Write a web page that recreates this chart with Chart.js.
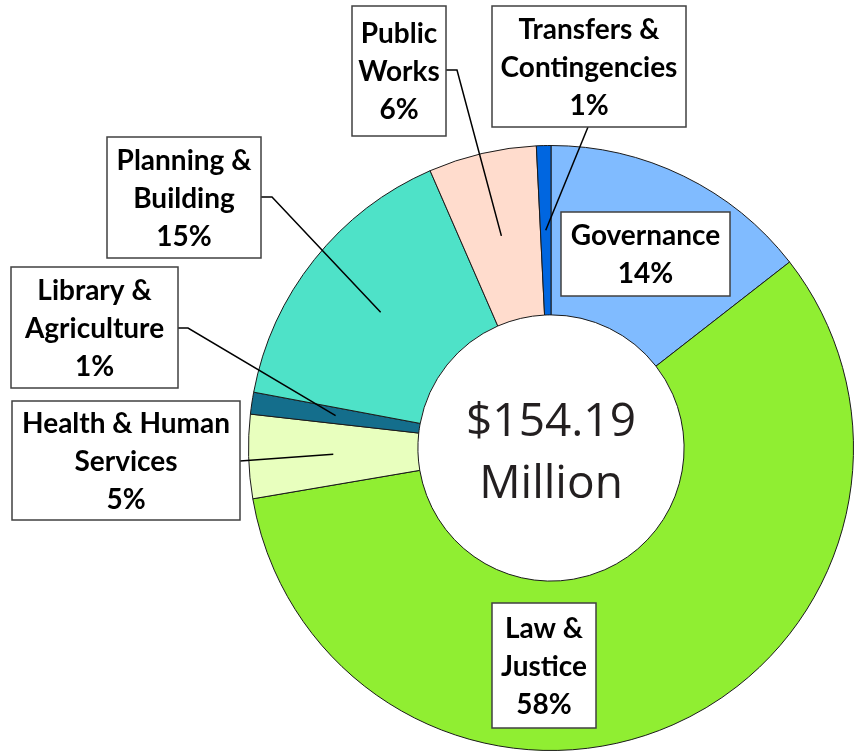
<!DOCTYPE html>
<html>
<head>
<meta charset="utf-8">
<script src="https://cdn.jsdelivr.net/npm/chart.js@4/dist/chart.umd.min.js"></script>
<style>
  html, body { margin: 0; padding: 0; background: #fff; }
  #wrap { width: 856px; height: 753px; position: relative; }
</style>
</head>
<body>
<div id="wrap"><canvas id="budgetChart"></canvas></div>
<script>
/* -------------------------------------------------------
   Data ($ millions)
------------------------------------------------------- */
const categories = ['Governance', 'Law & Justice', 'Health & Human Services', 'Library & Agriculture',
                    'Planning & Building', 'Public Works', 'Transfers & Contingencies'];
const amounts    = [22.3, 89.2, 6.9, 1.8, 23.9, 8.9, 1.19];
const pctLabels  = ['14%', '58%', '5%', '1%', '15%', '6%', '1%'];
const labelLines = [['Governance'], ['Law &', 'Justice'], ['Health & Human', 'Services'], ['Library &', 'Agriculture'],
                    ['Planning &', 'Building'], ['Public', 'Works'], ['Transfers &', 'Contingencies']];
const totalLines = ['$154.19', 'Million'];

/* -------------------------------------------------------
   Colors
------------------------------------------------------- */
const SLICE_COLORS = ['#80BBFF', '#90EE32', '#E8FFBE', '#146E8C', '#4EE2C8', '#FFDCCD', '#0066E0'];

/* -------------------------------------------------------
   Label boxes: x, y, w, h, leader path start (arc centre appended)
------------------------------------------------------- */
const BOXES = [
  { x: 561, y: 212, w: 169, h: 84,  leader: null },
  { x: 492, y: 603, w: 104, h: 125, leader: null },
  { x: 12,  y: 401, w: 228, h: 119, leader: [[240, 461]] },
  { x: 11,  y: 267, w: 167, h: 121, leader: [[177, 328], [188, 328]] },
  { x: 107, y: 137, w: 154, h: 121, leader: [[261, 197], [272, 197]] },
  { x: 352, y: 6,   w: 94,  h: 130, leader: [[446, 70], [457, 70]] },
  { x: 492, y: 6,   w: 194, h: 121, leader: [[588, 127]] },
];

const labelPlugin = {
  id: 'labelBoxes',
  afterDraw(chart) {
    const ctx = chart.ctx;
    const arcs = chart.getDatasetMeta(0).data;

    // center total
    const cx = arcs[0].x, cy = arcs[0].y;
    ctx.save();
    ctx.fillStyle = '#231F20';
    ctx.font = "46px 'Open Sans', sans-serif";
    ctx.textAlign = 'center';
    ctx.textBaseline = 'middle';
    ctx.fillText(totalLines[0], cx, cy - 25);
    ctx.fillText(totalLines[1], cx, cy + 37);
    ctx.restore();

    // leader lines
    ctx.save();
    ctx.strokeStyle = '#000';
    ctx.lineWidth = 1.5;
    BOXES.forEach((b, i) => {
      if (!b.leader) return;
      const end = arcs[i].getCenterPoint();
      ctx.beginPath();
      ctx.moveTo(b.leader[0][0], b.leader[0][1]);
      b.leader.slice(1).forEach(p => ctx.lineTo(p[0], p[1]));
      ctx.lineTo(end.x, end.y);
      ctx.stroke();
    });
    ctx.restore();

    // boxes
    ctx.save();
    ctx.font = "bold 28px Lato, sans-serif";
    ctx.textAlign = 'center';
    ctx.textBaseline = 'middle';
    BOXES.forEach((b, i) => {
      ctx.fillStyle = '#fff';
      ctx.fillRect(b.x, b.y, b.w, b.h);
      ctx.strokeStyle = '#404040';
      ctx.lineWidth = 1.5;
      ctx.strokeRect(b.x, b.y, b.w, b.h);
      const lines = labelLines[i].concat(pctLabels[i]);
      const lh = 38;
      const top = b.y + b.h / 2 - (lines.length - 1) * lh / 2 + 1;
      ctx.fillStyle = '#000';
      lines.forEach((t, k) => ctx.fillText(t, b.x + b.w / 2, top + k * lh));
    });
    ctx.restore();
  }
};

new Chart(document.getElementById('budgetChart'), {
  type: 'doughnut',
  data: {
    labels: categories,
    datasets: [{
      data: amounts,
      backgroundColor: SLICE_COLORS,
      borderColor: '#1a1a1a',
      borderWidth: 1,
    }]
  },
  options: {
    responsive: true,
    maintainAspectRatio: false,
    animation: false,
    cutout: '44%',
    layout: { padding: { left: 248, right: 2, top: 145, bottom: 2 } },
    plugins: {
      legend: { display: false },
      tooltip: { enabled: false }
    }
  },
  plugins: [labelPlugin]
});
</script>
</body>
</html>
